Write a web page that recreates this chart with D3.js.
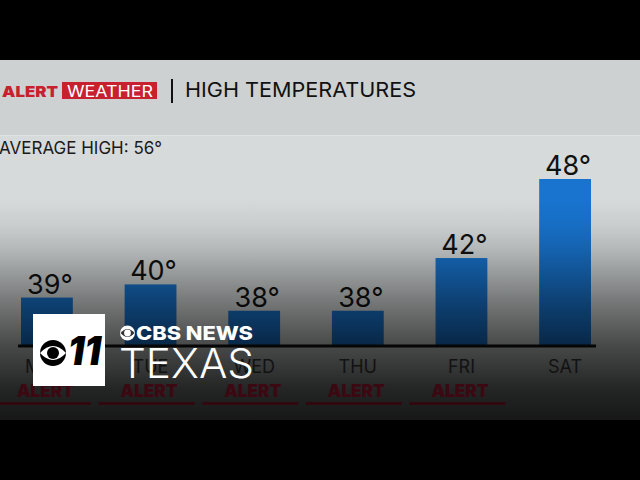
<!DOCTYPE html>
<html>
<head>
<meta charset="utf-8">
<script src="https://cdn.jsdelivr.net/npm/d3@7"></script>
<style>
  body { margin: 0; background: #000; }
  svg { display: block; font-family: Inter, "Open Sans", sans-serif; }
</style>
</head>
<body>
<svg id="chart" width="640" height="480"></svg>
<script>
let days = ['MON', 'TUE', 'WED', 'THU', 'FRI', 'SAT'];
let highs = [39, 40, 38, 38, 42, 48];
let alerts = [true, true, true, true, true, false];
let titleText = 'HIGH TEMPERATURES';
let averageText = 'AVERAGE HIGH: 56°';

let svg = d3.select('#chart');
let W = +svg.attr('width');
let H = +svg.attr('height');
let baseY = 345;

let defs = svg.append('defs');
let bg = defs.append('linearGradient').attr('id', 'bg').attr('x1', 0).attr('x2', 0).attr('y1', 0).attr('y2', 1);
bg.append('stop').attr('offset', '0%').attr('stop-color', '#d8dcdc');
bg.append('stop').attr('offset', '100%').attr('stop-color', '#d2d6d6');

// dark vignette that sits over the lower half of the frame
let shade = defs.append('linearGradient').attr('id', 'shade')
    .attr('gradientUnits', 'userSpaceOnUse')
    .attr('x1', 0).attr('x2', 0).attr('y1', 200).attr('y2', 420);
[[0, 0], [0.12, 0.06], [0.23, 0.16], [0.45, 0.43], [0.66, 0.66], [0.86, 0.83], [1, 0.89]].forEach(s => {
    shade.append('stop').attr('offset', s[0]).attr('stop-color', '#000').attr('stop-opacity', s[1]);
});

// letterbox + plate
svg.append('rect').attr('width', W).attr('height', H).attr('fill', '#000');
svg.append('rect').attr('x', 0).attr('y', 60).attr('width', W).attr('height', 360).attr('fill', 'url(#bg)');
svg.append('rect').attr('x', 0).attr('y', 60).attr('width', W).attr('height', 75).attr('fill', '#cdd1d1');
svg.append('line').attr('x1', 0).attr('x2', W).attr('y1', 135.5).attr('y2', 135.5)
    .attr('stroke', '#dfe3e3').attr('stroke-width', 1);

// header
svg.append('text').attr('x', 2).attr('y', 97)
    .attr('font-size', 15).attr('font-weight', 900).attr('fill', '#c8202f')
    .attr('textLength', 56).attr('lengthAdjust', 'spacingAndGlyphs')
    .text('ALERT');
svg.append('rect').attr('x', 62).attr('y', 82).attr('width', 95).attr('height', 17).attr('fill', '#c8202f');
svg.append('text').attr('x', 67).attr('y', 97)
    .attr('font-size', 16).attr('fill', '#fff')
    .attr('textLength', 86).attr('lengthAdjust', 'spacingAndGlyphs')
    .text('WEATHER');
svg.append('line').attr('x1', 172).attr('x2', 172).attr('y1', 79).attr('y2', 103)
    .attr('stroke', '#111').attr('stroke-width', 2);
svg.append('text').attr('x', 185).attr('y', 97)
    .attr('font-size', 20).attr('fill', '#111')
    .attr('textLength', 231).attr('lengthAdjust', 'spacingAndGlyphs')
    .text(titleText);
svg.append('text').attr('x', -1).attr('y', 154)
    .attr('font-size', 17).attr('fill', '#1a1a1a')
    .attr('textLength', 163).attr('lengthAdjust', 'spacingAndGlyphs')
    .text(averageText);

// scales
let x = d3.scaleBand().domain(days).range([21, 591]).paddingInner(0.5).paddingOuter(0);
let y = d3.scaleLinear().domain([35.4, 48]).range([baseY, 179]);

let g = svg.append('g');
g.selectAll('.bar').data(days).enter()
    .append('rect')
    .attr('class', 'bar')
    .attr('x', d => x(d))
    .attr('y', (d, i) => y(highs[i]))
    .attr('width', x.bandwidth())
    .attr('height', (d, i) => baseY - y(highs[i]))
    .attr('fill', '#1874cf');

g.selectAll('.temp').data(days).enter()
    .append('text')
    .attr('class', 'temp')
    .attr('x', d => x(d) + x.bandwidth() / 2 + 3)
    .attr('y', (d, i) => y(highs[i]) - 4)
    .attr('text-anchor', 'middle')
    .attr('font-size', 27)
    .attr('fill', '#111')
    .text((d, i) => highs[i] + '°');

// axis line
svg.append('line').attr('x1', 18).attr('x2', 596).attr('y1', baseY + 1).attr('y2', baseY + 1)
    .attr('stroke', '#111').attr('stroke-width', 3);

// shade over everything below
svg.append('rect').attr('x', 0).attr('y', 60).attr('width', W).attr('height', 360).attr('fill', 'url(#shade)');

// day names and alert tags
svg.selectAll('.day').data(days).enter()
    .append('text')
    .attr('class', 'day')
    .attr('x', d => x(d) + x.bandwidth() / 2)
    .attr('y', 373)
    .attr('text-anchor', 'middle')
    .attr('font-size', 18)
    .attr('fill', '#121212')
    .text(d => d);

let alertDays = days.filter((d, i) => alerts[i]);
svg.selectAll('.alert').data(alertDays).enter()
    .append('text')
    .attr('class', 'alert')
    .attr('x', d => x(d) + x.bandwidth() / 2 - 30)
    .attr('y', 397)
    .attr('font-size', 17)
    .attr('font-weight', 900)
    .attr('fill', '#3c0812')
    .attr('textLength', 57).attr('lengthAdjust', 'spacingAndGlyphs')
    .text('ALERT');
svg.selectAll('.uline').data(alertDays).enter()
    .append('line')
    .attr('class', 'uline')
    .attr('x1', d => x(d) + x.bandwidth() / 2 - 52)
    .attr('x2', d => x(d) + x.bandwidth() / 2 + 44)
    .attr('y1', 403.5).attr('y2', 403.5)
    .attr('stroke', '#33060e').attr('stroke-width', 2.5);

// station bug
let logo = svg.append('g');
logo.append('rect').attr('x', 33).attr('y', 314).attr('width', 72).attr('height', 72).attr('fill', '#fff');
logo.append('circle').attr('cx', 53).attr('cy', 353).attr('r', 13).attr('fill', '#000');
logo.append('path').attr('d', 'M40,353 Q53,339 66,353 Q53,367 40,353 Z').attr('fill', '#fff');
logo.append('circle').attr('cx', 53).attr('cy', 353).attr('r', 6).attr('fill', '#000');
logo.append('text').attr('x', 68).attr('y', 365)
    .attr('font-size', 40).attr('font-weight', 900).attr('font-style', 'italic').attr('fill', '#000')
    .attr('textLength', 33).attr('lengthAdjust', 'spacingAndGlyphs')
    .text('11');

logo.append('circle').attr('cx', 127.5).attr('cy', 333).attr('r', 7.5).attr('fill', '#fff');
logo.append('path').attr('d', 'M120.5,333 Q127.5,325 134.5,333 Q127.5,341 120.5,333 Z').attr('fill', '#333');
logo.append('circle').attr('cx', 127.5).attr('cy', 333).attr('r', 3.4).attr('fill', '#fff');
logo.append('text').attr('x', 136).attr('y', 340)
    .attr('font-size', 19).attr('font-weight', 800).attr('fill', '#fff')
    .attr('textLength', 117).attr('lengthAdjust', 'spacingAndGlyphs')
    .text('CBS NEWS');
logo.append('text').attr('x', 119).attr('y', 378)
    .attr('font-size', 41).attr('font-weight', 300).attr('fill', '#fff')
    .attr('textLength', 135).attr('lengthAdjust', 'spacingAndGlyphs')
    .text('TEXAS');
</script>
</body>
</html>
